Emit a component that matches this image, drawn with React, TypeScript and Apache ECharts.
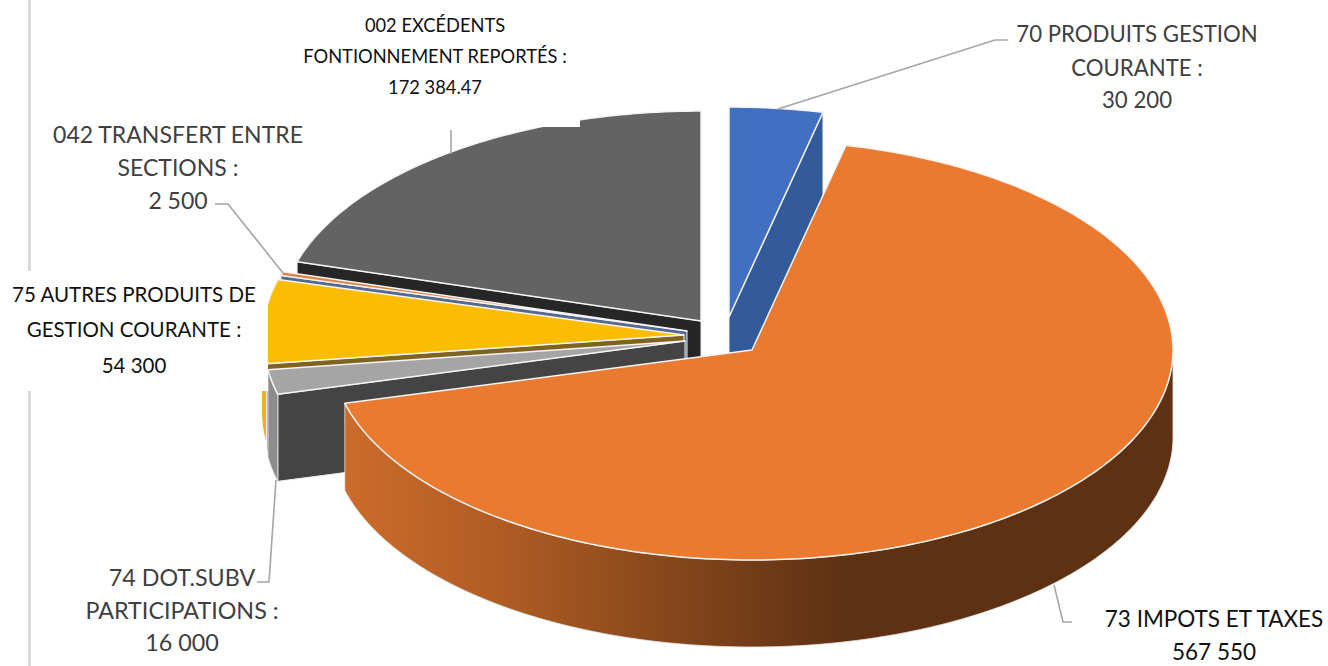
import React, { useEffect, useRef } from "react";
import * as echarts from "echarts";

const categories = [
  "70 PRODUITS GESTION COURANTE",
  "73 IMPOTS ET TAXES",
  "74 DOT.SUBV PARTICIPATIONS",
  "75 AUTRES PRODUITS DE GESTION COURANTE",
  "042 TRANSFERT ENTRE SECTIONS",
  "002 EXCÉDENTS FONTIONNEMENT REPORTÉS",
];
const values = [30200, 567550, 16000, 54300, 2500, 172384.47];
const topColors = ["#4270c1", "#e97a30", "#a5a5a5", "#fbbd02", "#e0823f", "#636363"];
const cutColors = ["#335a99", "#c96a2a", "#444444", "#7f6420", "#566a8f", "#262626"];
const sideColors = ["#335a99", "#5f3113", "#8c8c8c", "#eab320", "#b0662c", "#4a4a4a"];
const centers: number[][] = [
  [729, 317],
  [752, 350],
  [685, 341],
  [684, 335],
  [687, 331],
  [701, 321],
];
const drawOrder = [5, 4, 3, 2, 0, 1];

const RX = 421;
const RY = 210;
const DEPTH = 87;
const total = values.reduce((a, b) => a + b, 0);
const starts: number[] = [];
values.reduce((acc, v, i) => {
  starts[i] = (acc / total) * 360;
  return acc + v;
}, 0);

function rim(c: number[], deg: number, dy = 0, dx = 0): number[] {
  const t = (deg * Math.PI) / 180;
  return [c[0] + dx + RX * Math.sin(t), c[1] + dy - RY * Math.cos(t)];
}
function arc(c: number[], a: number, b: number, dy = 0, dx = 0): number[][] {
  const pts: number[][] = [];
  const n = Math.max(2, Math.ceil(Math.abs(b - a)));
  for (let i = 0; i <= n; i++) pts.push(rim(c, a + ((b - a) * i) / n, dy, dx));
  return pts;
}

const orangeSide = new echarts.graphic.LinearGradient(
  0, 0, 1, 0,
  [
    { offset: 0, color: "#cc6c2b" },
    { offset: 0.2, color: "#ad5b23" },
    { offset: 0.42, color: "#80441a" },
    { offset: 0.6, color: "#5f3113" },
    { offset: 1, color: "#5f3113" },
  ],
);

function renderSlice(params: any, api: any) {
  const i = drawOrder[params.dataIndex];
  const value = api.value(1);
  const a = starts[i];
  const b = a + (value / total) * 360;
  const c = centers[i];
  const children: any[] = [];
  const edge = { stroke: "#f4f4f4", lineWidth: 1.5, lineJoin: "round" };
  const cutDeg = i === 0 || i === 1 ? b : a;
  const corner = rim(c, cutDeg);
  const cornerLow = rim(c, cutDeg, DEPTH);
  if (i !== 1) {
    children.push({
      type: "polygon",
      shape: { points: [c, corner, cornerLow, [c[0], c[1] + DEPTH]] },
      style: { fill: cutColors[i], stroke: "#ececec", lineWidth: 1 },
    });
  }
  // Outer rim is visible on the front half only.
  const sa = Math.max(a, 90);
  const sb = Math.min(b, 270);
  if (i === 3) {
    children.push({
      type: "polygon",
      shape: { points: [...arc(c, 262, 270, 0, -1), ...arc(c, 270, 262, DEPTH - 10, -1)] },
      style: { fill: sideColors[i] },
    });
  } else if (sb > sa) {
    children.push({
      type: "polygon",
      shape: { points: [...arc(c, sa, sb), ...arc(c, sb, sa, DEPTH)] },
      style: { fill: i === 1 ? orangeSide : sideColors[i], stroke: "#e4e4e4", lineWidth: 0.8 },
    });
  }
  children.push({
    type: "polygon",
    shape: { points: [c, ...arc(c, a, b)] },
    style: { fill: topColors[i], ...edge },
  });
  return { type: "group", children };
}

const FONT = "Lato, 'Open Sans', sans-serif";
const GREY = "#404040";
const BLACK = "#111111";
const labelLines: { lines: string[]; x: number; ys: number[]; color: string; size: number; z: number }[] = [
  { lines: ["70 PRODUITS GESTION", "COURANTE :", "30 200"], x: 1137, ys: [33, 67, 99], color: GREY, size: 22.2, z: 20 },
  { lines: ["042 TRANSFERT ENTRE", "SECTIONS :", "2 500"], x: 178, ys: [134, 167, 200], color: GREY, size: 23, z: 20 },
  { lines: ["002 EXCÉDENTS", "FONTIONNEMENT REPORTÉS :", "172 384.47"], x: 435, ys: [25, 56, 87], color: BLACK, size: 18.3, z: 40 },
  { lines: ["75 AUTRES PRODUITS DE", "GESTION COURANTE :", "54 300"], x: 134, ys: [294, 329, 365], color: BLACK, size: 20.5, z: 40 },
  { lines: ["74 DOT.SUBV", "PARTICIPATIONS :", "16 000"], x: 182, ys: [577, 610, 642], color: GREY, size: 23.3, z: 20 },
  { lines: ["73 IMPOTS ET TAXES", "567 550"], x: 1214, ys: [618, 651], color: BLACK, size: 22.5, z: 20 },
];
const leaders: number[][][] = [
  [[1008, 40], [995, 40], [778, 109]],
  [[215, 204], [228, 204], [283, 273]],
  [[257, 582], [269, 582], [276, 480]],
  [[1072, 622], [1063, 622], [1054, 585]],
  [[451, 130], [451, 154]],
];

function buildGraphics() {
  const els: any[] = [
    { type: "rect", z: 5, shape: { x: 28, y: 0, width: 3, height: 666 }, style: { fill: "#d9d9d9" } },
    ...leaders.map((points) => ({
      type: "polyline",
      z: 10,
      shape: { points },
      style: { stroke: "#a6a6a6", lineWidth: 1.6, fill: "none" },
    })),
    { type: "rect", z: 30, shape: { x: 303, y: 0, width: 277, height: 127 }, style: { fill: "#ffffff" } },
    { type: "rect", z: 30, shape: { x: 0, y: 271, width: 268, height: 120 }, style: { fill: "#ffffff" } },
  ];
  labelLines.forEach((g) =>
    g.lines.forEach((text, k) =>
      els.push({
        type: "text",
        z: g.z,
        x: g.x,
        y: g.ys[k],
        style: {
          text,
          fill: g.color,
          font: `${g.size}px ${FONT}`,
          lineHeight: 18,
          textAlign: "center",
          textVerticalAlign: "middle",
        },
      }),
    ),
  );
  return els;
}

export default function App() {
  const ref = useRef<HTMLDivElement>(null);
  useEffect(() => {
    document.body.style.margin = "0";
    const chart = echarts.init(ref.current!, null, { renderer: "svg" });
    chart.setOption({
      animation: false,
      backgroundColor: "#ffffff",
      series: [
        {
          type: "custom",
          coordinateSystem: "none",
          z: 2,
          silent: true,
          renderItem: renderSlice,
          data: drawOrder.map((i) => ({ name: categories[i], value: [i, values[i]] })),
        },
      ],
      graphic: { elements: buildGraphics() },
    });
    return () => chart.dispose();
  }, []);
  return <div ref={ref} style={{ width: 1328, height: 666 }} />;
}
